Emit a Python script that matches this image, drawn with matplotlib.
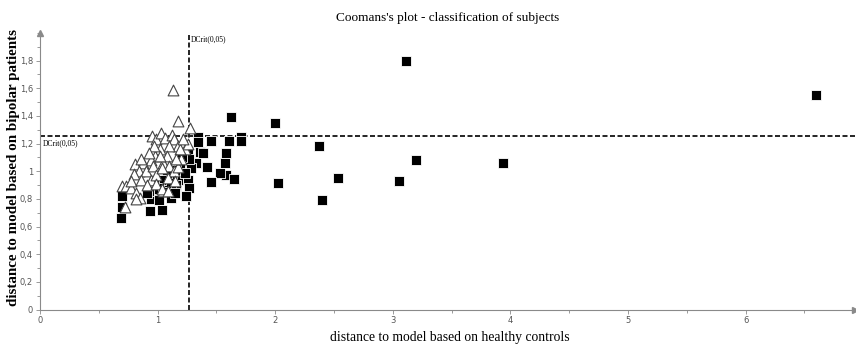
import matplotlib
matplotlib.use("Agg")
from matplotlib import pyplot as plt
from matplotlib.ticker import MultipleLocator, FuncFormatter

# Limites críticos
dcrit_x = 1.265
dcrit_y = 1.255

# Pacientes bipolares (quadrados pretos)
bip_x = [3.11, 6.60, 2.00, 2.37, 2.02, 2.40, 2.53, 3.05, 3.20, 3.94,
         1.62, 1.71, 1.71, 1.61, 1.585, 1.57, 1.58, 1.53, 1.65, 1.45,
         1.42, 1.45, 1.34, 1.34, 1.36, 1.39, 1.33, 1.28, 1.255, 1.27,
         1.26, 1.27, 1.24, 1.205, 1.19, 1.16, 1.17, 1.16, 1.125, 1.11,
         1.08, 1.07, 1.05, 1.03, 1.01, 1.00, 0.97, 0.96, 0.94, 0.93,
         0.91, 0.935, 1.035, 1.01, 1.11, 1.15, 0.695, 0.70, 0.685, 1.23]
bip_y = [1.80, 1.55, 1.35, 1.185, 0.915, 0.79, 0.95, 0.93, 1.08, 1.06,
         1.39, 1.25, 1.22, 1.22, 1.13, 1.06, 0.975, 0.99, 0.945, 0.925,
         1.03, 1.22, 1.25, 1.21, 1.14, 1.13, 1.06, 1.02, 1.13, 1.09,
         0.94, 0.88, 0.82, 1.105, 1.04, 1.01, 0.94, 0.90, 0.94, 0.87,
         0.99, 0.91, 0.85, 0.94, 0.88, 0.83, 0.92, 0.85, 0.80, 0.86,
         0.84, 0.715, 0.72, 0.795, 0.81, 0.84, 0.82, 0.74, 0.66, 0.99]

# Controles saudáveis (triângulos abertos)
ctl_x = [1.133, 1.17, 1.275, 0.95, 0.99, 1.03, 1.06, 1.12, 1.14, 1.17,
         1.10, 1.02, 0.98, 0.94, 0.88, 0.81, 0.84, 0.80, 0.90, 0.96,
         1.05, 1.08, 1.10, 1.14, 1.17, 1.20, 1.23, 1.26, 0.695, 0.73,
         0.77, 0.82, 0.85, 0.72, 0.77, 0.86, 0.94, 0.99, 1.04, 0.91,
         0.99, 1.05, 1.09, 1.04, 0.82, 1.15, 1.09, 1.19, 0.97, 1.02,
         0.93, 0.86, 1.16, 1.22]
ctl_y = [1.59, 1.36, 1.31, 1.257, 1.23, 1.28, 1.24, 1.265, 1.23, 1.18,
         1.18, 1.16, 1.11, 1.08, 1.06, 1.05, 1.00, 0.98, 1.00, 1.04,
         1.06, 1.11, 1.04, 1.00, 1.03, 1.09, 1.16, 1.20, 0.89, 0.89,
         0.88, 0.84, 0.81, 0.74, 0.93, 0.94, 0.94, 0.97, 1.02, 0.90,
         0.91, 0.86, 0.95, 0.87, 0.80, 0.93, 0.86, 1.16, 1.18, 1.11,
         1.13, 1.09, 1.09, 1.23]

fig = plt.figure(figsize=(8.56, 3.46), dpi=100)
ax = fig.add_axes([40 / 856, 1 - 309.5 / 346, 815 / 856, 276.5 / 346])
ax.set_xlim(0, 6.93)
ax.set_ylim(0, 2.0)

cinza = "#8a8a8a"
for lado in ["top", "right"]:
    ax.spines[lado].set_visible(False)
for lado in ["left", "bottom"]:
    ax.spines[lado].set_color(cinza)
    ax.spines[lado].set_linewidth(0.8)

# Setas nas pontas dos eixos
ax.plot(0, 1, "^", color=cinza, markersize=5, transform=ax.transAxes, clip_on=False)
ax.plot(1, 0, ">", color=cinza, markersize=4, transform=ax.transAxes, clip_on=False)

ax.xaxis.set_major_locator(MultipleLocator(1))
ax.xaxis.set_minor_locator(MultipleLocator(0.5))
ax.yaxis.set_major_locator(MultipleLocator(0.2))
ax.yaxis.set_minor_locator(MultipleLocator(0.1))
virgula = FuncFormatter(lambda v, p: ("%g" % round(v, 2)).replace(".", ","))
ax.xaxis.set_major_formatter(virgula)
ax.yaxis.set_major_formatter(virgula)
ax.set_yticks([v / 10 for v in range(0, 19, 2)])
ax.tick_params(which="both", colors=cinza, labelcolor="#555555", labelsize=6, width=0.6)
ax.tick_params(which="major", length=3, pad=2)
ax.tick_params(which="minor", length=2)

# Linhas críticas
ax.axhline(dcrit_y, color="black", linestyle=(0, (3, 1.5)), linewidth=1.2, zorder=1)
ax.plot([dcrit_x, dcrit_x], [0, 1.985], color="black", linestyle=(0, (3, 1.5)), linewidth=1.2, zorder=1)
ax.text(dcrit_x + 0.02, 1.985, "DCrit(0,05)", fontsize=5.5, family="Liberation Serif", va="top", ha="left")
ax.text(0.02, dcrit_y - 0.025, "DCrit(0,05)", fontsize=5.5, family="Liberation Serif", va="top", ha="left")

# Pontos
ax.scatter(bip_x, bip_y, marker="s", s=60, c="black", edgecolors="white", linewidths=0.6, zorder=3)
ax.scatter(ctl_x, ctl_y, marker="^", s=60, c="white", edgecolors="#444444", linewidths=0.8, zorder=4)

fig.text(0.523, 1 - 18 / 346, "Coomans's plot - classification of subjects",
         family="Liberation Serif", fontsize=9.5, ha="center", va="center")
fig.text(0.526, 1 - 338 / 346, "distance to model based on healthy controls",
         family="Liberation Serif", fontsize=9.8, ha="center", va="center")
fig.text(14 / 856, 0.515, "distance to model based on bipolar patients",
         family="Liberation Serif", fontsize=10.8, fontweight="bold",
         rotation=90, ha="center", va="center")

plt.savefig("out.png", dpi=100)
plt.close()
